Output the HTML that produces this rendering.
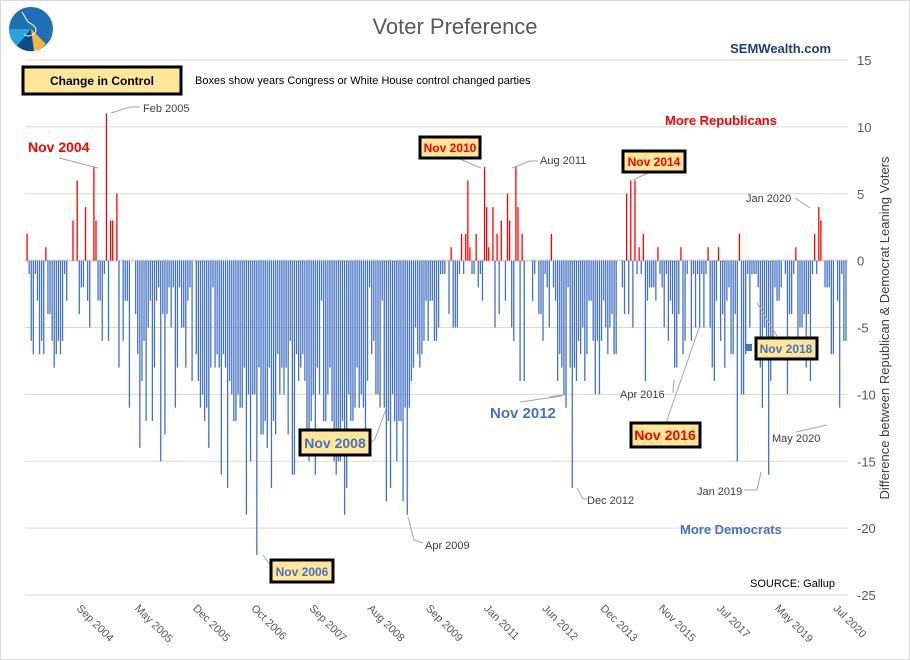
<!DOCTYPE html>
<html><head><meta charset="utf-8"><style>
body{margin:0;background:#fff;}
#wrap{position:relative;width:910px;height:660px;overflow:hidden;font-family:"Liberation Sans",sans-serif;}
svg{position:absolute;left:0;top:0;}
</style></head><body>
<div id="wrap">
<svg id="chart" width="910" height="660">
<rect x="0.5" y="0.5" width="909" height="659" fill="#fff" stroke="#d9d9d9"/>
<g>
<circle cx="31" cy="29" r="22" fill="#1f6fb5"/>
<path d="M31 29 L9 29 A22 22 0 0 0 17 46 Z" fill="#29a3e0"/>
<path d="M31 29 L17 46 A22 22 0 0 0 34 51 Z" fill="#0d4a8a"/>
<path d="M31 29 L34 51 A22 22 0 0 0 46 44 Z" fill="#f5b342"/>
<path d="M22 12 L28 22 Q40 28 34 34 Q27 38 24 34" fill="none" stroke="#fff" stroke-width="1"/>
</g>
<text x="455" y="34" text-anchor="middle" font-size="22" fill="#595959">Voter Preference</text>
<text x="831" y="53" text-anchor="end" font-size="13" font-weight="bold" fill="#1f3f7f">SEMWealth.com</text>
<g id="grid"></g>
<g id="bars"></g>
<g id="yaxis"></g>
<g id="xaxis"></g>
<text transform="translate(889,328) rotate(-90)" text-anchor="middle" font-size="13" fill="#404040">Difference between Republican &amp; Democrat Leaning Voters</text>
<g>
<rect x="23" y="67" width="158" height="27" fill="#ffe699" stroke="#000" stroke-width="3"/>
<text x="102" y="85" text-anchor="middle" font-size="12" font-weight="bold" fill="#000">Change in Control</text>
</g>
<text x="195" y="84" font-size="11" fill="#000">Boxes show years Congress or White House control changed parties</text>
<g stroke="#a6a6a6" fill="none" stroke-width="1">
<polyline points="59,158 98,168"/>
<polyline points="111,113 130,107 140,107"/>
<polyline points="455,157 481,168"/>
<polyline points="512,168 530,161 538,161"/>
<polyline points="633,180 650,172"/>
<polyline points="795,198 810,208"/>
<polyline points="757,303 777,336"/>
<polyline points="549,397 562,395 567,395"/>
<polyline points="520,402 562,396"/>
<polyline points="673,393 674,380"/>
<polyline points="666,423 699,328"/>
<polyline points="796,432 827,425"/>
<polyline points="370,443 375,439 386,409"/>
<polyline points="577,488 583,499 587,499"/>
<polyline points="744,490 757,490 761,472"/>
<polyline points="408,517 414,540 423,543"/>
<polyline points="263,555 268,562 272,567"/>
</g>
<text x="28" y="152" font-size="14" font-weight="bold" fill="#ff0000">Nov 2004</text>
<text x="143" y="112" font-size="11" fill="#404040">Feb 2005</text>
<text x="665" y="125" font-size="13" font-weight="bold" fill="#ff0000">More Republicans</text>
<g><rect x="420" y="137" width="60" height="21" fill="#ffe699" stroke="#000" stroke-width="3"/><text x="450" y="152" text-anchor="middle" font-size="12" font-weight="bold" fill="#ff0000">Nov 2010</text></g>
<text x="540" y="164" font-size="11" fill="#404040">Aug 2011</text>
<g><rect x="623" y="151" width="62" height="21" fill="#ffe699" stroke="#000" stroke-width="3"/><text x="654" y="166" text-anchor="middle" font-size="12" font-weight="bold" fill="#ff0000">Nov 2014</text></g>
<text x="746" y="202" font-size="11" fill="#404040">Jan 2020</text>
<rect x="745" y="344" width="7" height="7" fill="#4472c4"/>
<g><rect x="756" y="338" width="61" height="21" fill="#ffe699" stroke="#000" stroke-width="3"/><text x="786" y="353" text-anchor="middle" font-size="12" font-weight="bold" fill="#4472c4">Nov 2018</text></g>
<text x="620" y="398" font-size="11" fill="#404040">Apr 2016</text>
<text x="490" y="418" font-size="15" font-weight="bold" fill="#4472c4">Nov 2012</text>
<g><rect x="631" y="423" width="69" height="24" fill="#ffe699" stroke="#000" stroke-width="3"/><text x="665" y="440" text-anchor="middle" font-size="14" font-weight="bold" fill="#ff0000">Nov 2016</text></g>
<text x="772" y="442" font-size="11" fill="#404040">May 2020</text>
<g><rect x="300" y="430" width="70" height="25" fill="#ffe699" stroke="#000" stroke-width="3"/><text x="335" y="448" text-anchor="middle" font-size="14" font-weight="bold" fill="#4472c4">Nov 2008</text></g>
<text x="587" y="504" font-size="11" fill="#404040">Dec 2012</text>
<text x="697" y="495" font-size="11" fill="#404040">Jan 2019</text>
<text x="680" y="534" font-size="13" font-weight="bold" fill="#4472c4">More Democrats</text>
<text x="425" y="549" font-size="11" fill="#404040">Apr 2009</text>
<g><rect x="271" y="560" width="62" height="22" fill="#ffe699" stroke="#000" stroke-width="3"/><text x="302" y="576" text-anchor="middle" font-size="12" font-weight="bold" fill="#4472c4">Nov 2006</text></g>
<text x="750" y="587" font-size="11" fill="#000">SOURCE: Gallup</text>
</svg>
</div>
<script>
const values = [2,-1,-6,-7,-1,-3,-7,-6,-7,1,-4,-4,-6,-8,-7,-6,-7,-6,-1,-3,0,0,3,0,6,-4,-2,-2,4,-3,-5,0,7,3,-3,-3,-6,-1,11,-6,3,3,0,5,-8,0,-6,-3,-3,-11,0,0,-4,-7,-14,-9,-6,-12,-5,-3,-12,-8,-3,-2,-15,-4,-13,-4,-2,-5,-2,-11,-8,-2,-5,-5,-8,-3,-2,-9,0,-7,-9,-11,-10,-12,-11,-14,-8,-2,-8,-7,-8,-16,
-7,-8,-17,-9,-10,-12,-12,-10,-11,-11,-8,-19,-10,-15,-10,-10,-22,-8,-13,-13,-12,-14,-8,-17,-12,-13,-7,-10,-8,-10,-8,-13,-6,-16,-16,-7,-9,-8,-7,-9,-13,-15,-12,-10,-16,-8,-10,-3,-12,-12,-10,-8,-12,-15,-16,-15,-15,-12,-19,-17,-10,-12,-12,-11,-8,-11,-10,-11,-13,-9,-2,-7,-6,-10,-10,-11,-3,-11,-18,-12,-17,-10,-12,-15,-12,-12,-18,-11,-19,-11,-9,-8,-5,-7,-8,-7,-6,-3,-6,-3,-3,-6,-6,-5,-1,-1,
-1,0,-4,1,-5,-5,-5,-1,2,-1,2,6,1,-1,-1,2,-2,-1,-3,7,4,1,0,4,-5,2,-4,3,0,-3,5,3,-5,-6,7,4,-9,2,-9,0,0,0,-3,-1,0,-4,-4,-6,-1,-2,-5,2,-2,-3,-9,-7,-8,-10,-11,-2,-8,-17,-8,-9,-6,-7,-5,-9,-7,-3,-3,-6,-10,-6,-10,-6,-3,-5,-7,-5,-4,-7,-7,0,0,-2,-4,5,-4,6,-5,6,-1,1,-1,2,
-9,-3,-2,-2,-2,-3,1,-1,-2,-5,-1,-6,-3,-4,-8,-8,-4,1,-7,-6,-1,0,-6,-1,-5,-1,-5,-1,-5,-1,1,-5,-8,-9,-3,1,-6,-4,-8,-3,-2,-7,-7,-4,-15,2,-10,-10,-7,-1,-5,-1,-1,-1,-2,-8,-11,-5,-7,-16,-9,-7,-2,-3,-3,-2,0,-1,-10,-4,-4,-1,1,-6,-5,-5,-4,-8,-4,-9,-1,2,-1,4,3,0,-2,-2,-2,-7,-7,0,-3,-11,-1,-6,-6];
const yTicks = [15,10,5,0,-5,-10,-15,-20,-25];
const xLabels = ["Sep 2004","May 2005","Dec 2005","Oct 2006","Sep 2007","Aug 2008","Sep 2009","Jan 2011","Jun 2012","Dec 2013","Nov 2015","Jul 2017","May 2019","Jul 2020"];
const NS="http://www.w3.org/2000/svg";
const X0=25,X1=848,YTOP=60,YBOT=595,VMAX=15,VMIN=-25;
function yScale(v){return YTOP+(VMAX-v)*(YBOT-YTOP)/(VMAX-VMIN);}
function xScale(i){return X0+1+(i+0.5)*(X1-X0-2)/values.length;}
function mk(tag,attrs,parent){const e=document.createElementNS(NS,tag);for(const k in attrs)e.setAttribute(k,attrs[k]);parent.appendChild(e);return e;}
const grid=document.getElementById('grid'),bars=document.getElementById('bars'),ya=document.getElementById('yaxis'),xa=document.getElementById('xaxis');
yTicks.forEach(t=>{
  const y=yScale(t);
  const l=mk('line',{x1:X0,x2:X1,y1:y,y2:y,stroke:'#d9d9d9','stroke-width':1},grid);
  
  
  const tx=mk('text',{x:857,y:y+5,'font-size':13,fill:'#595959'},ya);
  tx.textContent=t;
  
  
});
// zero-line ticks
const zy=yScale(0);
const zl=mk('line',{x1:X0,x2:X1,y1:zy,y2:zy,stroke:'#d9d9d9','stroke-width':3,'stroke-dasharray':'1,1'},grid);


values.forEach((v,i)=>{
  if(v===0)return;
  const x=xScale(i);
  const r=mk('line',{x1:x,x2:x,y1:yScale(0),y2:yScale(v),stroke:v>0?'#ff0000':'#4472c4','stroke-width':1.3},bars);
  
  
});
xLabels.forEach((s,k)=>{
  const x=76+k*58.2, y=609;
  const t=mk('text',{x:x,y:y,'font-size':11,fill:'#595959',transform:`rotate(45 ${x} ${y})`},xa);
  t.textContent=s;
  
  
});
</script>
</body></html>
